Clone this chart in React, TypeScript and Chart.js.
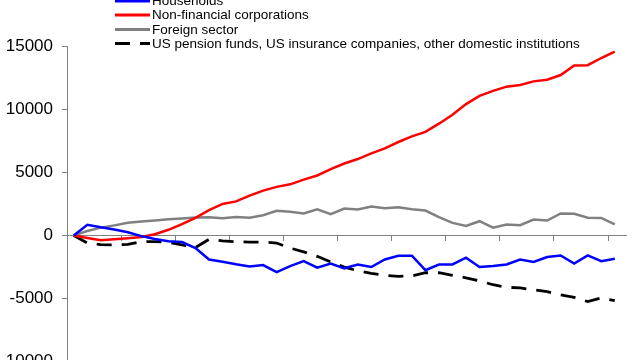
import React, { useEffect, useRef } from "react";
import { Chart, registerables } from "chart.js";

Chart.register(...registerables);

const quarters = [
  "2000Q4", "2001Q1", "2001Q2", "2001Q3", "2001Q4", "2002Q1", "2002Q2", "2002Q3", "2002Q4",
  "2003Q1", "2003Q2", "2003Q3", "2003Q4", "2004Q1", "2004Q2", "2004Q3", "2004Q4",
  "2005Q1", "2005Q2", "2005Q3", "2005Q4", "2006Q1", "2006Q2", "2006Q3", "2006Q4",
  "2007Q1", "2007Q2", "2007Q3", "2007Q4", "2008Q1", "2008Q2", "2008Q3", "2008Q4",
  "2009Q1", "2009Q2", "2009Q3", "2009Q4", "2010Q1", "2010Q2", "2010Q3", "2010Q4",
];

const households = [
  0, 850, 650, 480, 250, -50, -280, -450, -520, -1000, -1900, -2080, -2280, -2450, -2340, -2900,
  -2420, -2030, -2550, -2230, -2600, -2300, -2500, -1900, -1600, -1600, -2750, -2300, -2290, -1760,
  -2500, -2420, -2300, -1900, -2100, -1700, -1580, -2230, -1580, -2030, -1840,
];

const nonFinancial = [
  0, -200, -380, -300, -220, -120, 100, 450, 900, 1400, 2000, 2500, 2700, 3150, 3550, 3850,
  4050, 4420, 4750, 5250, 5700, 6050, 6500, 6900, 7400, 7850, 8200, 8850, 9550, 10400,
  11050, 11450, 11780, 11920, 12200, 12330, 12700, 13450, 13480, 14050, 14550,
];

const foreignSector = [
  0, 350, 620, 800, 1000, 1100, 1180, 1280, 1350, 1420, 1450, 1360, 1470, 1400, 1600, 1950,
  1880, 1740, 2080, 1680, 2130, 2050, 2300, 2150, 2240, 2080, 1970, 1450, 1000, 750,
  1130, 620, 870, 810, 1260, 1180, 1740, 1720, 1400, 1390, 870,
];

const usInstitutions = [
  0, -600, -720, -740, -700, -500, -480, -550, -750, -950, -300, -420, -500, -520, -520, -600,
  -1000, -1300, -1650, -2100, -2500, -2800, -3000, -3150, -3230, -3200, -2950, -2950, -3150, -3350,
  -3600, -3900, -4100, -4150, -4300, -4450, -4700, -4900, -5230, -4950, -5150,
];

const seriesLabels = [
  "Households",
  "Non-financial corporations",
  "Foreign sector",
  "US pension funds, US insurance companies, other domestic institutions",
];

const yTicks = [-10000, -5000, 0, 5000, 10000, 15000];

const toPoints = (arr: number[]) => arr.map((v, i) => ({ x: i, y: v }));

const legendPlugin = {
  id: "manualLegend",
  afterDraw(chart: any) {
    const ctx = chart.ctx;
    const ds = chart.data.datasets;
    const x0 = 115;
    const x1 = 150;
    const rowY = [21, 35, 49.5, 63.5];
    ctx.save();
    ctx.font = "13.5px 'Liberation Sans', Arial, sans-serif";
    ctx.textBaseline = "middle";
    ctx.textAlign = "left";
    ds.forEach((d: any, i: number) => {
      const y = rowY[i];
      ctx.beginPath();
      ctx.strokeStyle = d.borderColor;
      ctx.lineWidth = 3;
      ctx.setLineDash(d.borderDash || []);
      ctx.moveTo(x0, y);
      ctx.lineTo(x1, y);
      ctx.stroke();
      ctx.setLineDash([]);
      ctx.fillStyle = "#000";
      ctx.fillText(d.label, 152, y + 0.5);
    });
    ctx.restore();
  },
};

export default function App() {
  const ref = useRef<HTMLCanvasElement | null>(null);

  useEffect(() => {
    if (!ref.current) return;
    const chart = new Chart(ref.current, {
      type: "line",
      data: {
        labels: quarters,
        datasets: [
          {
            label: seriesLabels[0],
            data: toPoints(households),
            borderColor: "#0000FF",
            borderWidth: 2.5,
          },
          {
            label: seriesLabels[1],
            data: toPoints(nonFinancial),
            borderColor: "#FF0000",
            borderWidth: 2.5,
          },
          {
            label: seriesLabels[2],
            data: toPoints(foreignSector),
            borderColor: "#808080",
            borderWidth: 2.5,
          },
          {
            label: seriesLabels[3],
            data: toPoints(usInstitutions),
            borderColor: "#000000",
            borderWidth: 2.8,
            borderDash: [15, 10],
          },
        ] as any,
      },
      options: {
        animation: false,
        responsive: false,
        maintainAspectRatio: false,
        layout: { padding: { top: 66, bottom: 15, left: 0, right: 14 } },
        elements: {
          point: { radius: 0, hoverRadius: 0 },
          line: { tension: 0, fill: false },
        },
        plugins: {
          legend: { display: false },
          tooltip: { enabled: false },
          title: { display: false },
        },
        scales: {
          x: {
            type: "linear",
            position: { y: 0 } as any,
            min: -0.5,
            max: 40.83,
            afterBuildTicks: (scale: any) => {
              const t: any[] = [];
              for (let i = 0; i <= quarters.length; i += 4) t.push({ value: i - 0.5 });
              scale.ticks = t;
            },
            afterFit: (scale: any) => {
              scale.height = 0;
            },
            ticks: { display: false },
            grid: {
              drawOnChartArea: false,
              drawTicks: true,
              tickLength: 5,
              color: "#808080",
              lineWidth: 1,
            },
            border: { display: true, color: "#808080", width: 1 },
          },
          y: {
            type: "linear",
            min: -10000,
            max: 15000,
            afterBuildTicks: (scale: any) => {
              scale.ticks = yTicks.map((v) => ({ value: v }));
            },
            afterFit: (scale: any) => {
              scale.width = 67;
            },
            ticks: {
              padding: 9,
              color: "#000",
              font: { family: "'Liberation Sans', Arial, sans-serif", size: 17 },
              callback: (v: any) => String(v),
            },
            grid: {
              drawOnChartArea: false,
              drawTicks: true,
              tickLength: 5,
              color: "#808080",
              lineWidth: 1,
            },
            border: { display: true, color: "#808080", width: 1 },
          },
        },
      } as any,
      plugins: [legendPlugin],
    });
    return () => chart.destroy();
  }, []);

  return (
    <canvas
      ref={ref}
      width={640}
      height={401}
      style={{ position: "fixed", left: 0, top: -20, width: 640, height: 401, background: "#fff" }}
    />
  );
}
